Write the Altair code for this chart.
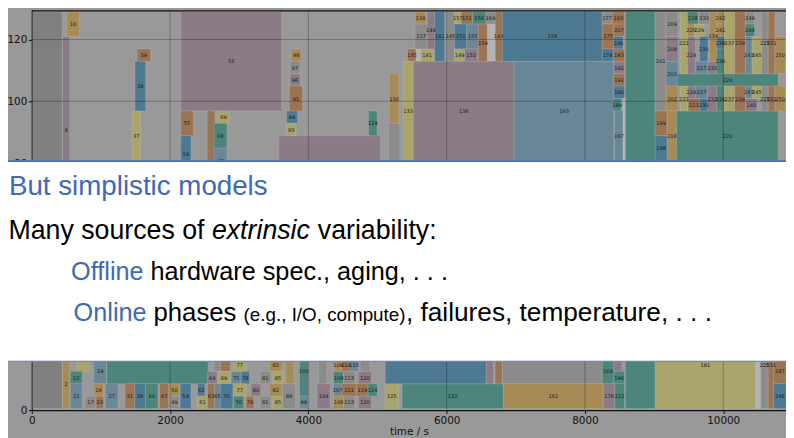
import altair as alt
import pandas as pd

# ---------------- data: jobs (time in s, rows of processors) ----------------
top_label = ["", "8", "10", "39", "38", "37", "56", "55", "54", "",
             "69", "68", "67", "98", "97", "96", "95", "94", "93", "",
             "124", "130", "", "133", "135", "", "141", "138", "137", "144",
             "142", "145", "157", "151", "156", "169", "143", "150", "155", "159",
             "", "149", "152", "158", "136", "163", "177", "183", "175", "207",
             "206", "174", "183", "192", "191", "190", "189", "187", "", "",
             "201", "209", "208", "203", "202", "199", "198", "218", "220", "220",
             "221", "221", "228", "226", "229", "224", "224", "227", "223", "230",
             "230", "227", "232", "232", "233", "234", "242", "241", "238", "236",
             "236", "237", "237", "239", "239", "249", "244", "243", "245", "243",
             "245", "240", "225", "225", "231", "231", "250", "250"]
top_start = [15, 444, 505, 1526, 1493, 1454, 2155, 2155, 2155, 2537,
             2680, 2637, 2637, 3749, 3735, 3735, 3725, 3686, 3686, 3572,
             4870, 5170, 5160, 5370, 5437, 5557, 5624, 5542, 5542, 5718,
             5828, 5996, 6115, 6211, 6377, 6568, 6701, 6115, 6291, 6458,
             6591, 6115, 6258, 6806, 5518, 6978, 8251, 8394, 8251, 8418,
             8418, 8251, 8408, 8418, 8418, 8418, 8408, 8428, 8551, 8586,
             9015, 9172, 9172, 9172, 9172, 9015, 9015, 9191, 9335, 9325,
             9383, 9383, 9483, 9483, 9588, 9483, 9483, 9597, 9493, 9659,
             9659, 9597, 9778, 9778, 9650, 9801, 9907, 9907, 9907, 9907,
             9907, 10014, 10014, 10165, 10165, 10322, 10322, 10322, 10418, 10322,
             10418, 10322, 10555, 10555, 10651, 10651, 10747, 10747]
top_end = [440, 548, 691, 1717, 1646, 1574, 3615, 2337, 2304, 2647,
           2866, 2823, 2823, 3901, 3882, 3882, 3915, 3844, 3821, 5041,
           4994, 5309, 5323, 5518, 5557, 5624, 5814, 5700, 5718, 5828,
           5971, 6115, 6211, 6377, 6568, 6701, 6806, 6291, 6458, 6591,
           6701, 6258, 6448, 8251, 6978, 8418, 8394, 8572, 8418, 8572,
           8551, 8408, 8572, 8572, 8572, 8572, 8522, 8551, 8586, 9015,
           9172, 9349, 9349, 9349, 9349, 9191, 9191, 9325, 10795, 10795,
           9483, 9483, 9636, 9588, 9721, 9597, 9597, 9778, 9659, 9778,
           9778, 9778, 9907, 9907, 9801, 9907, 10014, 10014, 10014, 10014,
           10014, 10165, 10165, 10322, 10322, 10451, 10451, 10418, 10555, 10418,
           10555, 10490, 10651, 10651, 10747, 10747, 10898, 10898]
top_lo = [0, 15, 30, 28, 24, 20, 24, 22, 19, 14,
          23, 21, 19, 28, 27, 26, 24, 23, 22, 12,
          22, 23, 14, 20, 28, 28, 28, 31, 29, 29,
          28, 28, 31, 31, 31, 31, 28, 29, 29, 28,
          28, 28, 28, 28, 20, 20, 31, 31, 29, 30,
          29, 28, 28, 27, 26, 25, 24, 20, 20, 0,
          24, 30, 28, 26, 24, 22, 20, 20, 26, 20,
          27, 24, 31, 30, 30, 27, 25, 25, 24, 28,
          24, 27, 27, 24, 31, 28, 31, 30, 29, 27,
          24, 27, 24, 27, 24, 31, 30, 27, 27, 25,
          25, 24, 27, 24, 27, 24, 27, 24]
top_hi = [32, 30, 32, 29, 28, 24, 32, 24, 22, 24,
          24, 23, 21, 29, 28, 27, 26, 24, 23, 22,
          24, 27, 23, 28, 29, 29, 29, 32, 31, 32,
          32, 32, 32, 32, 32, 32, 32, 31, 31, 31,
          31, 29, 29, 32, 28, 28, 32, 32, 31, 31,
          30, 29, 29, 28, 27, 26, 25, 24, 25, 32,
          32, 32, 30, 28, 26, 24, 22, 24, 27, 24,
          32, 26, 32, 31, 31, 30, 26, 26, 25, 30,
          25, 28, 28, 26, 32, 32, 32, 31, 30, 29,
          26, 32, 26, 32, 26, 32, 31, 30, 30, 26,
          26, 25, 32, 26, 32, 26, 30, 26]
top_kind = ["G", "P", "D", "O", "B", "Y", "P", "O", "B", "O",
            "Y", "T", "L", "D", "g", "P", "O", "B", "Y", "P",
            "T", "D", "g", "Y", "O", "W", "Y", "D", "g", "P",
            "B", "g", "Y", "O", "T", "g", "O", "B", "L", "O",
            "W", "Y", "P", "B", "P", "L", "g", "O", "O", "O",
            "B", "B", "O", "P", "O", "B", "T", "L", "W", "T",
            "g", "g", "P", "L", "D", "O", "B", "D", "T", "T",
            "Y", "Y", "T", "D", "Y", "P", "P", "L", "O", "B",
            "B", "L", "P", "P", "g", "D", "D", "D", "B", "T",
            "T", "Y", "Y", "O", "O", "g", "T", "L", "Y", "L",
            "Y", "P", "g", "g", "O", "O", "D", "D"]

bot_label = ["2", "", "12", "11", "17", "19", "18", "23", "27", "",
             "31", "38", "44", "47", "50", "49", "54", "62", "61", "64",
             "", "", "69", "63", "65", "70", "75", "78", "77", "77",
             "76", "79", "80", "81", "81", "85", "85", "82", "82", "89",
             "", "100", "99", "104", "", "108", "113", "120", "107", "111",
             "119", "124", "106", "113", "120", "109", "114", "115", "", "125",
             "132", "", "", "", "", "162", "164", "", "196", "176",
             "212", "181", "", "225", "231", "247", "246"]
bot_start = [444, 653, 558, 558, 773, 896, 896, 930, 1063, 1087,
             1349, 1488, 1646, 1850, 1994, 1994, 2147, 2398, 2398, 2541,
             2637, 2733, 2694, 2541, 2647, 2727, 2885, 3028, 2919, 2919,
             2919, 3100, 3171, 3300, 3300, 3482, 3482, 3434, 3434, 3625,
             3672, 3872, 3872, 4126, 4150, 4365, 4508, 4722, 4365, 4484,
             4698, 4865, 4365, 4508, 4722, 4380, 4484, 4603, 4750, 5113,
             5356, 5113, 6573, 6701, 6806, 6821, 8251, 8418, 8418, 8266,
             8433, 9015, 10470, 10541, 10651, 10732, 10732]
bot_end = [548, 834, 730, 730, 930, 1082, 1035, 1039, 1249, 2551,
           1488, 1646, 1826, 1979, 2137, 2137, 2304, 2504, 2541, 2680,
           2733, 2870, 2870, 2647, 2727, 2909, 3028, 3148, 3100, 3100,
           3066, 3210, 3314, 3457, 3457, 3639, 3639, 3625, 3625, 3815,
           3792, 3997, 3997, 4316, 4269, 4508, 4674, 4913, 4484, 4698,
           4865, 4994, 4508, 4674, 4913, 4484, 4603, 4722, 4890, 5303,
           6821, 6573, 6677, 6806, 8251, 8266, 8418, 8536, 8572, 8433,
           8572, 10470, 10541, 10651, 10732, 10908, 10908]
bot_lo = [0, 3, 2, 0, 0, 2, 1, 0, 0, 2,
          0, 0, 0, 0, 1, 0, 0, 1, 0, 2,
          3, 3, 2, 0, 0, 0, 2, 2, 1, 3,
          0, 0, 1, 2, 0, 2, 0, 1, 3, 0,
          2, 1, 0, 0, 2, 2, 2, 2, 1, 1,
          1, 1, 0, 0, 0, 3, 3, 3, 3, 0,
          0, 2, 2, 2, 2, 0, 2, 3, 2, 0,
          0, 0, 0, 0, 0, 2, 0]
bot_hi = [4, 6, 3, 2, 1, 4, 2, 1, 2, 10,
          2, 2, 2, 2, 2, 1, 2, 2, 1, 3,
          5, 5, 3, 2, 2, 2, 3, 3, 2, 4,
          1, 1, 2, 3, 1, 3, 1, 2, 4, 2,
          6, 5, 1, 2, 7, 3, 3, 3, 2, 2,
          2, 2, 1, 1, 1, 4, 4, 4, 5, 2,
          2, 10, 6, 8, 10, 2, 4, 4, 3, 2,
          2, 7, 7, 7, 7, 4, 2]
bot_kind = ["D", "Y", "T", "L", "g", "L", "D", "O", "L", "T",
            "O", "B", "T", "O", "D", "g", "B", "B", "Y", "P",
            "g", "O", "Y", "O", "L", "B", "L", "B", "Y", "Y",
            "T", "O", "P", "g", "g", "Y", "Y", "D", "D", "g",
            "D", "T", "L", "P", "g", "T", "g", "P", "L", "O",
            "O", "T", "D", "g", "P", "D", "O", "L", "g", "Y",
            "T", "B", "P", "O", "g", "D", "T", "P", "T", "P",
            "T", "Y", "W", "g", "O", "O", "B"]

x_ticks = [0, 2000, 4000, 6000, 8000, 10000]
y_ticks = [0, 80, 100, 120]          # 20-60 sit under the text panel
x_grid = [2000, 4000, 6000, 8000, 10000]
y_grid = [20, 40, 60, 80, 100, 120]

slide_title = "But simplistic models"
line_many = ["Many sources of ", "extrinsic", "variability:"]
offline_term = "Offline"
offline_text = "hardware spec., aging, . . ."
online_term = "Online"
online_text = ["phases", "(e.g., I/O, compute)", ", failures, temperature, . . ."]

# ---------------- styles ----------------
palette = {"G": "#7f7f7f", "g": "#8b8b8b", "P": "#8b7b86", "O": "#9b7453",
           "D": "#a78b57", "Y": "#a8a46a", "B": "#4e7993", "T": "#4d857a",
           "L": "#6a8797", "W": "#b3b3b3"}
BG = "#999999"
ROW = 4.016  # processors per row

df = pd.DataFrame({
    "label": top_label + bot_label,
    "t0": top_start + bot_start,
    "t1": top_end + bot_end,
    "lo": top_lo + bot_lo,
    "hi": top_hi + bot_hi,
    "kind": top_kind + bot_kind,
})
df["y0"] = 0.5 + ROW * df["lo"]
df["y1"] = 0.5 + ROW * df["hi"]
df["tc"] = (df["t0"] + df["t1"]) / 2
df["yc"] = (df["y0"] + df["y1"]) / 2
df["col"] = df["kind"].map(palette)

xs = alt.Scale(domain=[0, 10908], nice=False, zero=False)
ys = alt.Scale(domain=[0, 129.5], nice=False, zero=False)

x_axis = alt.Axis(values=x_ticks, format="d", grid=False, tickSize=3.5, tickColor="#111111",
                  domainColor="#111111", domainWidth=1.2, labelFont="DejaVu Sans",
                  labelFontSize=10.5, labelColor="#111111", labelPadding=2, labelFlush=False,
                  title="time / s", titleFont="DejaVu Sans", titleFontSize=10.5,
                  titleFontWeight="normal", titleColor="#111111", titleY=25,
                  titleBaseline="alphabetic")
y_axis = alt.Axis(values=y_ticks, format="d", grid=False, tickSize=3.5, tickColor="#111111",
                  domainColor="#111111", domainWidth=1.2, labelFont="DejaVu Sans",
                  labelFontSize=10.5, labelColor="#111111", labelPadding=1.5, labelFlush=False,
                  title="")

bars = alt.Chart(df).mark_rect(clip=True, stroke="#ffffff", strokeOpacity=0.18,
                               strokeWidth=0.7).encode(
    x=alt.X("t0:Q", scale=xs, axis=x_axis),
    x2="t1:Q",
    y=alt.Y("y0:Q", scale=ys, axis=y_axis),
    y2="y1:Q",
    color=alt.Color("col:N", scale=None),
)

bar_text = alt.Chart(df[df["label"] != ""]).mark_text(
    font="DejaVu Sans", fontSize=5.2, color="#1c1c1c", clip=True).encode(
    x=alt.X("tc:Q", scale=xs, axis=x_axis),
    y=alt.Y("yc:Q", scale=ys, axis=y_axis),
    text="label:N",
)

grid_x = alt.Chart(pd.DataFrame({"gx": x_grid})).mark_rule(
    color="black", opacity=0.27, strokeWidth=1).encode(x=alt.X("gx:Q", scale=xs, axis=x_axis))
grid_y = alt.Chart(pd.DataFrame({"gy": y_grid})).mark_rule(
    color="black", opacity=0.27, strokeWidth=1).encode(y=alt.Y("gy:Q", scale=ys, axis=y_axis))

one = pd.DataFrame({"a": [0]})
top_frame = alt.Chart(one).mark_rule(color="#111111", strokeWidth=1.3).encode(
    x=alt.value(0), x2=alt.value(762), y=alt.value(0.7))
box = alt.Chart(one).mark_rect(color="white").encode(
    x=alt.value(-30), x2=alt.value(770), y=alt.value(152), y2=alt.value(355))
line_top = alt.Chart(one).mark_rule(color="#3f6cc0", strokeWidth=1.6).encode(
    x=alt.value(-30), x2=alt.value(770), y=alt.value(152.5))
line_bot = alt.Chart(one).mark_rule(color="#4a76c6", strokeWidth=1.1).encode(
    x=alt.value(-30), x2=alt.value(770), y=alt.value(354.6))

OX, OY = 32, 8  # page offset of plot origin
BLUE = "#3f68b5"
FONT = "Liberation Sans"


def txt(s, px, py, size, color="#000000", style="normal", align="left"):
    return alt.Chart(one).mark_text(font=FONT, fontSize=size, color=color, fontStyle=style,
                                    align=align, baseline="alphabetic").encode(
        x=alt.value(px - OX), y=alt.value(py - OY), text=alt.value(s))


texts = [
    txt(slide_title, 9, 195, 28, BLUE),
    txt(line_many[0], 8.5, 239, 27),
    txt(line_many[1], 214, 239, 27, style="italic"),
    txt(line_many[2], 321, 239, 27),
    txt(offline_term, 145, 281, 25.5, BLUE, align="right"),
    txt(offline_text, 152, 281, 25.5),
    txt(online_term, 148, 322, 25.5, BLUE, align="right"),
    txt(online_text[0], 155, 322, 26),
    txt(online_text[1], 246, 322, 19),
    txt(online_text[2], 410, 322, 26.5),
]

chart = alt.layer(bars, bar_text, grid_x, grid_y, top_frame, box, line_top, line_bot,
                  *texts).properties(
    width=762, height=404, background=BG,
    padding={"left": 24, "top": 0, "right": 0, "bottom": 30},
    autosize=alt.AutoSizeParams(type="none"),
).configure_view(strokeWidth=0)

chart.save("out.html", embed_options={"renderer": "svg", "actions": False})
